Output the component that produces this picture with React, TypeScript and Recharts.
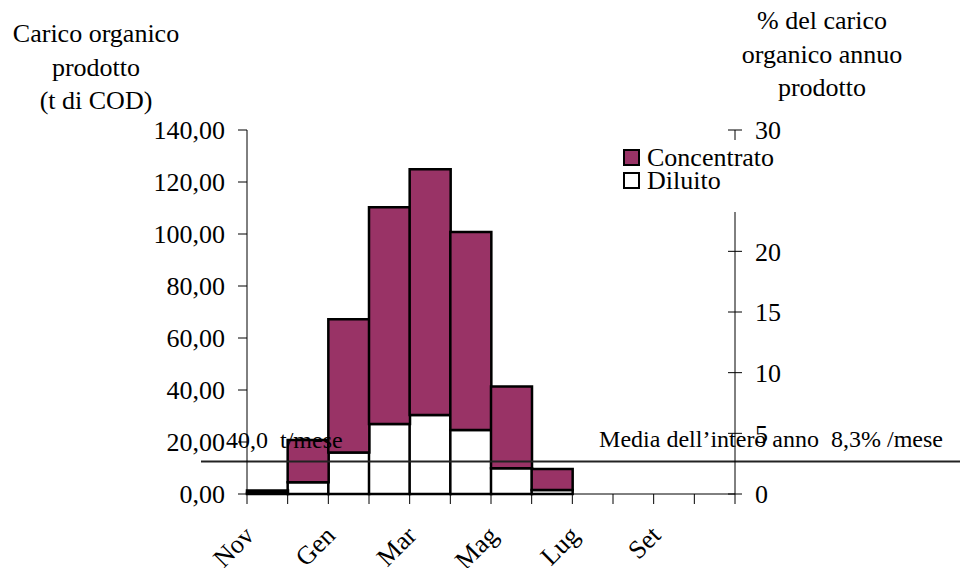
import React from 'react';
import { ComposedChart, Bar, XAxis, YAxis, Legend, ReferenceLine } from 'recharts';

const mesi = ['Nov', 'Dic', 'Gen', 'Feb', 'Mar', 'Apr', 'Mag', 'Giu', 'Lug', 'Ago', 'Set', 'Ott'];
const diluito = [0.4, 4.5, 16.0, 26.9, 30.4, 24.6, 9.9, 1.5, 0, 0, 0, 0];
const concentrato = [0.9, 16.3, 51.2, 83.4, 94.5, 76.2, 31.4, 8.1, 0, 0, 0, 0];
const ticksSinistra = [0, 20, 40, 60, 80, 100, 120, 140];
const ticksDestra = [0, 5, 10, 15, 20, 25, 30];
const mediaLinea = 12.5;
const etichettaMediaT = '40,0\u00a0 t/mese';
const etichettaMediaPerc = 'Media dell\u2019intero anno\u00a0 8,3% /mese';
const titoloSinistra = ['Carico organico', 'prodotto', '(t di COD)'];
const titoloDestra = ['% del carico', 'organico annuo', 'prodotto'];

const data = mesi.map((m, i) => ({ mese: m, diluito: diluito[i], concentrato: concentrato[i] }));

const FONT = 'Liberation Serif';
const W = 960;
const H = 568;
const SX = 247; // larghezza asse sinistro
const DX = 225; // larghezza asse destro
const passo = (W - SX - DX) / mesi.length;

function MeseTick(props: any) {
  const { x, y, payload, index } = props;
  const sx = x - passo / 2;
  const ax = x - 12;
  const ay = y + 43;
  return (
    <g>
      <line x1={sx} x2={sx} y1={y} y2={y + 10} stroke="#000" strokeWidth={1} />
      {index === mesi.length - 1 && (
        <line x1={x + passo / 2} x2={x + passo / 2} y1={y} y2={y + 10} stroke="#000" strokeWidth={1} />
      )}
      {index % 2 === 0 && (
        <text
          x={ax}
          y={ay}
          transform={`rotate(-45 ${ax} ${ay})`}
          textAnchor="end"
          fontFamily={FONT}
          fontSize={26}
          fill="#000"
        >
          {payload.value}
        </text>
      )}
    </g>
  );
}

function DestraTick(props: any) {
  const { x, y, payload } = props;
  const ax = x - 20;
  return (
    <g>
      <line x1={ax - 7} x2={ax + 7} y1={y} y2={y} stroke="#000" strokeWidth={1} />
      <text x={x} y={y} dy="0.355em" textAnchor="start" fontFamily={FONT} fontSize={26} fill="#000">
        {payload.value}
      </text>
    </g>
  );
}

function Titolo({ righe, cx, y0 }: { righe: string[]; cx: number; y0: number }) {
  return (
    <g>
      {righe.map((r, i) => (
        <text key={r + i} x={cx} y={y0 + i * 33.5} textAnchor="middle" fontFamily={FONT} fontSize={26} fill="#000">
          {r}
        </text>
      ))}
    </g>
  );
}

function LineaMedia(props: any) {
  const { x1, y1 } = props;
  return (
    <g>
      <line x1={x1 - 46} x2={W} y1={y1} y2={y1} stroke="#222" strokeWidth={2} />
      <text x={x1 - 21} y={y1 - 14} fontFamily={FONT} fontSize={24} fill="#000">
        {etichettaMediaT}
      </text>
      <text x={943} y={y1 - 15} textAnchor="end" fontFamily={FONT} fontSize={24} fill="#000">
        {etichettaMediaPerc}
      </text>
      <Titolo righe={titoloSinistra} cx={96} y0={42} />
      <Titolo righe={titoloDestra} cx={822} y0={29} />
    </g>
  );
}

function LegendaBox(props: any) {
  const voci = props.payload || [];
  return (
    <div style={{ paddingTop: 6, paddingLeft: 5 }}>
      {voci.map((v: any) => (
        <div key={v.value} style={{ display: 'flex', alignItems: 'center', height: 23 }}>
          <span
            style={{
              display: 'inline-block',
              width: 13,
              height: 13,
              border: '2.5px solid #000',
              background: v.color,
              marginRight: 7,
            }}
          />
          <span style={{ fontFamily: FONT, fontSize: 26, lineHeight: '23px', color: '#000' }}>{v.value}</span>
        </div>
      ))}
    </div>
  );
}

export default function App() {
  return (
    <div style={{ position: 'absolute', left: 0, top: 0, width: W, height: H, background: '#fff', fontFamily: FONT }}>
      <ComposedChart
        width={W}
        height={H}
        data={data}
        margin={{ top: 130, right: 0, bottom: 0, left: 0 }}
        barCategoryGap={0}
        barGap={0}
      >
        <XAxis
          dataKey="mese"
          height={74}
          interval={0}
          tickLine={false}
          tickSize={0}
          tickMargin={0}
          axisLine={{ stroke: '#000', strokeWidth: 1 }}
          tick={<MeseTick />}
        />
        <YAxis
          yAxisId="sx"
          orientation="left"
          width={SX}
          domain={[0, 140]}
          ticks={ticksSinistra}
          interval={0}
          tickSize={9}
          tickMargin={13}
          tickLine={{ stroke: '#000' }}
          axisLine={{ stroke: '#000' }}
          tick={{ fontFamily: FONT, fontSize: 26, fill: '#000' }}
          tickFormatter={(v: number) => v.toFixed(2).replace('.', ',')}
        />
        <YAxis
          yAxisId="dx"
          orientation="right"
          width={DX}
          type="number"
          domain={[0, 30]}
          allowDataOverflow
          ticks={ticksDestra}
          interval={0}
          tickSize={7}
          tickMargin={13}
          tickLine={false}
          axisLine={{ stroke: '#000' }}
          tick={<DestraTick />}
        />
        <Bar
          yAxisId="sx"
          dataKey="diluito"
          name="Diluito"
          stackId="a"
          fill="#ffffff"
          stroke="#000"
          strokeWidth={2.5}
          isAnimationActive={false}
        />
        <Bar
          yAxisId="sx"
          dataKey="concentrato"
          name="Concentrato"
          stackId="a"
          fill="#993366"
          stroke="#000"
          strokeWidth={2.5}
          isAnimationActive={false}
        />
        <ReferenceLine yAxisId="sx" y={mediaLinea} shape={<LineaMedia />} ifOverflow="visible" />
        <Legend
          layout="vertical"
          align="center"
          verticalAlign="middle"
          content={<LegendaBox />}
          wrapperStyle={{ position: 'absolute', left: 618, top: 140, width: 185, height: 72, background: '#fff' }}
        />
      </ComposedChart>
    </div>
  );
}
